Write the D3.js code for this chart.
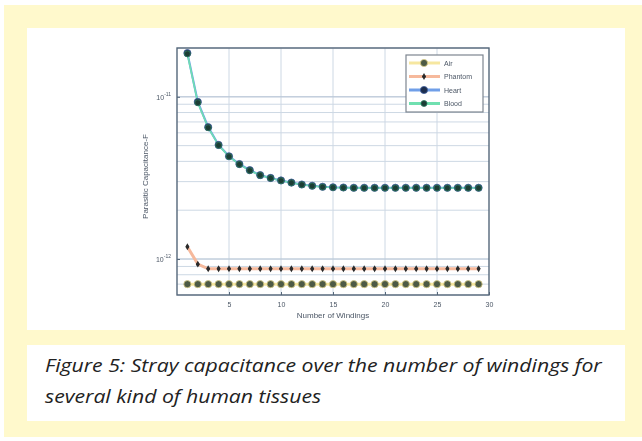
<!DOCTYPE html>
<html><head><meta charset="utf-8">
<script src="https://cdn.jsdelivr.net/npm/d3@7/dist/d3.min.js"></script>
<style>body{margin:0;background:#fff;}svg{display:block;}</style>
</head><body>
<svg id="c" width="642" height="441"></svg>
<script>
const windings = [1,2,3,4,5,6,7,8,9,10,11,12,13,14,15,16,17,18,19,20,21,22,23,24,25,26,27,28,29];
const air     = [7.0e-13,7.0e-13,7.0e-13,7.0e-13,7.0e-13,7.0e-13,7.0e-13,7.0e-13,7.0e-13,7.0e-13,7.0e-13,7.0e-13,7.0e-13,7.0e-13,7.0e-13,7.0e-13,7.0e-13,7.0e-13,7.0e-13,7.0e-13,7.0e-13,7.0e-13,7.0e-13,7.0e-13,7.0e-13,7.0e-13,7.0e-13,7.0e-13,7.0e-13];
const phantom = [1.19e-12,9.3e-13,8.7e-13,8.7e-13,8.7e-13,8.7e-13,8.7e-13,8.7e-13,8.7e-13,8.7e-13,8.7e-13,8.7e-13,8.7e-13,8.7e-13,8.7e-13,8.7e-13,8.7e-13,8.7e-13,8.7e-13,8.7e-13,8.7e-13,8.7e-13,8.7e-13,8.7e-13,8.7e-13,8.7e-13,8.7e-13,8.7e-13,8.7e-13];
const heart   = [1.86e-11,9.3e-12,6.5e-12,5.05e-12,4.3e-12,3.85e-12,3.53e-12,3.29e-12,3.16e-12,3.05e-12,2.96e-12,2.88e-12,2.83e-12,2.79e-12,2.77e-12,2.76e-12,2.75e-12,2.75e-12,2.75e-12,2.75e-12,2.75e-12,2.75e-12,2.75e-12,2.75e-12,2.75e-12,2.75e-12,2.75e-12,2.75e-12,2.75e-12];
const blood   = [1.84e-11,9.2e-12,6.45e-12,5.02e-12,4.28e-12,3.83e-12,3.51e-12,3.28e-12,3.15e-12,3.04e-12,2.95e-12,2.87e-12,2.82e-12,2.78e-12,2.76e-12,2.75e-12,2.74e-12,2.74e-12,2.74e-12,2.74e-12,2.74e-12,2.74e-12,2.74e-12,2.74e-12,2.74e-12,2.74e-12,2.74e-12,2.74e-12,2.74e-12];
const seriesNames = ["Air","Phantom","Heart","Blood"];
const xTicks = [5,10,15,20,25,30];
const yTicks = [1e-12,1e-11];
const yTickExp = ["-12","-11"];
const xLabel = "Number of Windings";
const yLabel = "Parasitic Capacitance-F";
const captionLines = ["Figure 5: Stray capacitance over the number of windings for","several kind of human tissues"];

const svg = d3.select("#c");
svg.append("rect").attr("x",4).attr("y",5).attr("width",638).attr("height",432).attr("fill","#fff9cc");
svg.append("rect").attr("x",27).attr("y",28).attr("width",598).attr("height",302).attr("fill","#ffffff");
svg.append("rect").attr("x",27).attr("y",345).attr("width",598).attr("height",76).attr("fill","#ffffff");

const defs = svg.append("defs");
defs.append("filter").attr("id","blur").append("feGaussianBlur").attr("stdDeviation",0.55);

const g = svg.append("g").attr("filter","url(#blur)");
const L=177,R=489,T=48,B=295;
const x = d3.scaleLinear().domain([0,30]).range([L,R]);
const y = d3.scaleLog().domain([6e-13,2e-11]).range([B,T]);

const minor = [];
[1e-13,1e-12,1e-11].forEach(d=>{for(let k=1;k<10;k++){const v=d*k; if(v>=6e-13&&v<=2e-11) minor.push(v);}});
g.append("g").selectAll("line").data(minor).join("line")
  .attr("x1",L).attr("x2",R).attr("y1",d=>y(d)).attr("y2",d=>y(d))
  .attr("stroke","#cdd8e4").attr("stroke-width",1);
g.append("g").selectAll("line").data(xTicks.slice(0,-1)).join("line")
  .attr("x1",d=>x(d)).attr("x2",d=>x(d)).attr("y1",T).attr("y2",B)
  .attr("stroke","#cdd8e4").attr("stroke-width",1);
g.append("g").selectAll("line").data(yTicks).join("line")
  .attr("x1",L).attr("x2",R).attr("y1",d=>y(d)).attr("y2",d=>y(d))
  .attr("stroke","#b9c7d6").attr("stroke-width",1);

const axColor="#56677a";
const xAxis = g.append("g").attr("transform",`translate(0,${B})`)
  .call(d3.axisBottom(x).tickValues(xTicks).tickSize(-3).tickPadding(7));
xAxis.select(".domain").remove();
xAxis.selectAll("line").attr("stroke",axColor);
xAxis.selectAll("text").attr("fill","#4c5766").style("font","7px Arial, 'Liberation Sans', sans-serif");
const yAxis = g.append("g").attr("transform",`translate(${L},0)`)
  .call(d3.axisLeft(y).tickValues(yTicks).tickSize(-3).tickFormat(()=>""));
yAxis.select(".domain").remove();
yAxis.selectAll("line").attr("stroke",axColor);
yTicks.forEach((v,i)=>{
  const t = g.append("text").attr("x",L-6).attr("y",y(v)+3).attr("text-anchor","end")
    .attr("fill","#4c5766").style("font","7px Arial, 'Liberation Sans', sans-serif");
  t.append("tspan").text("10");
  t.append("tspan").attr("dy",-4).style("font-size","5px").text(yTickExp[i]);
});
g.append("rect").attr("x",L).attr("y",T).attr("width",R-L).attr("height",B-T)
  .attr("fill","none").attr("stroke",axColor).attr("stroke-width",1.4);

g.append("text").attr("x",(L+R)/2).attr("y",318).attr("text-anchor","middle")
  .attr("fill","#4c5766").style("font","8px Arial, 'Liberation Sans', sans-serif").text(xLabel);
g.append("text").attr("transform",`translate(148,${(T+B)/2+5}) rotate(-90)`).attr("text-anchor","middle")
  .attr("fill","#4c5766").style("font","8px Arial, 'Liberation Sans', sans-serif").text(yLabel);

const series = [
  {name:seriesNames[0],vals:air,line:"#f6e7a0",lw:3,mark:"#4d5a44",stroke:"#d8cc86",r:3.6,shape:"circle"},
  {name:seriesNames[1],vals:phantom,line:"#f6b99c",lw:3,mark:"#2a2a2a",stroke:"#f0a080",r:2.6,shape:"diamond"},
  {name:seriesNames[2],vals:heart,line:"#6f9fe8",lw:2.2,mark:"#1e2d4e",stroke:"#3d5e9a",r:3.6,shape:"circle"},
  {name:seriesNames[3],vals:blood,line:"#6fe0b0",lw:1.6,mark:"#1d3d36",stroke:"#2f7a60",r:3.0,shape:"circle"}
];
const line = d3.line().x((d,i)=>x(windings[i])).y(d=>y(d));
function drawMark(sel,s){
  if(s.shape==="circle"){
    sel.append("circle").attr("r",s.r).attr("fill",s.mark).attr("stroke",s.stroke).attr("stroke-width",0.8);
  } else {
    sel.append("path").attr("d",d3.symbol(d3.symbolDiamond,14)).attr("fill",s.mark);
    sel.append("circle").attr("r",1.6).attr("fill",s.mark);
  }
}
series.forEach(s=>{
  g.append("path").datum(s.vals).attr("d",line).attr("fill","none")
    .attr("stroke",s.line).attr("stroke-width",s.lw);
});
series.forEach(s=>{
  const mg = g.append("g").selectAll("g").data(s.vals).join("g")
    .attr("transform",(d,i)=>`translate(${x(windings[i])},${y(d)})`);
  mg.each(function(){drawMark(d3.select(this),s);});
});

const lg = g.append("g");
lg.append("rect").attr("x",406).attr("y",55).attr("width",77).attr("height",57)
  .attr("fill","#ffffff").attr("stroke","#7d8590").attr("stroke-width",1.2);
series.forEach((s,i)=>{
  const yy = 63 + i*13.5;
  lg.append("line").attr("x1",409).attr("x2",440).attr("y1",yy).attr("y2",yy)
    .attr("stroke",s.line).attr("stroke-width",3);
  const m = lg.append("g").attr("transform",`translate(424,${yy})`);
  drawMark(m,s);
  lg.append("text").attr("x",444).attr("y",yy+2.5).attr("fill","#4c5766")
    .style("font","7px Arial, 'Liberation Sans', sans-serif").text(s.name);
});

// caption
const cap = svg.append("g");
const capTexts = captionLines.map((t,i)=>cap.append("text").attr("x",0).attr("y",372+i*31)
    .attr("fill","#222222").style("font","italic 18.5px 'Open Sans', 'Noto Sans', sans-serif").text(t));
const w0 = capTexts[0].node().getComputedTextLength();
const sx = 557 / w0;
cap.attr("transform",`translate(45,0) scale(${sx},1)`);
</script>
</body></html>
